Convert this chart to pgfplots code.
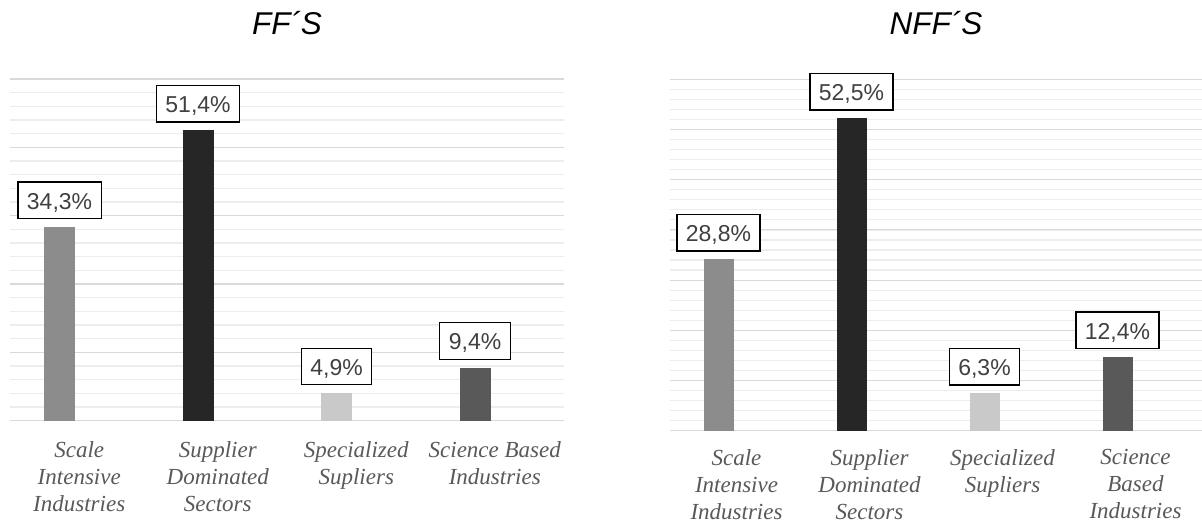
\documentclass[border=0pt]{standalone}
\usepackage{pgfplots}
\pgfplotsset{compat=1.18}
\usepackage{fontspec}
\setmainfont{Liberation Serif}
\newfontfamily\arial{Liberation Sans}
\definecolor{bA}{HTML}{8C8C8C}
\definecolor{bB}{HTML}{262626}
\definecolor{bC}{HTML}{C9C9C9}
\definecolor{bD}{HTML}{595959}
\definecolor{gMaj}{HTML}{D9D9D9}
\definecolor{gMin}{HTML}{EDEDED}
\definecolor{lab}{HTML}{404040}
\definecolor{cat}{HTML}{595959}
\pgfplotsset{
  mybar/.style={
    scale only axis, anchor=south west,
    xmin=-0.5, xmax=3.5, ymin=0,
    xtick={0,1,2,3},
    axis line style={draw=none},
    tick style={draw=none},
    yticklabels={},
    ymajorgrids, yminorgrids,
    major grid style={gMaj, line width=1.2pt},
    minor grid style={gMin, line width=1.2pt},
    xticklabel style={font=\fontsize{23}{26.7}\selectfont\itshape, text=cat, align=center, anchor=north, inner sep=0pt, yshift=-16.5pt},
    ybar,
    nodes near coords, point meta=explicit symbolic,
    every node near coord/.append style={font=\arial\fontsize{23}{27}\selectfont, text=lab, draw=black, line width=1.3pt, fill=white, inner xsep=9pt, inner ysep=9.5pt, text height=17.5pt, text depth=0pt, anchor=south, yshift=7.7pt},
    title style={font=\arial\itshape\fontsize{31.5}{36}\selectfont, anchor=base, at={(0.5,1)}, yshift=39pt},
  }
}
\begin{document}
\begin{tikzpicture}[x=1pt,y=1pt]
\path[use as bounding box] (0,0) rectangle (1202,520);
\begin{axis}[mybar, at={(10pt,99.3pt)}, width=554pt, height=341.7pt,
  ymax=60.5, ytick={0,12.1,24.2,36.3,48.4,60.5},
  minor ytick={0,2.42,...,60.5},
  title={FF´S}, bar width=31pt,
  xticklabels={{Scale\\Intensive\\Industries},{Supplier\\Dominated\\Sectors},{Specialized\\Supliers},{Science Based\\Industries}}]
\addplot[fill=bA, draw=none, bar shift=-19.7pt] coordinates {(0,34.3) [34,3\%]};
\addplot[fill=bB, draw=none, bar shift=-19.7pt] coordinates {(1,51.4) [51,4\%]};
\addplot[fill=bC, draw=none, bar shift=-19.7pt] coordinates {(2,4.9) [4,9\%]};
\addplot[fill=bD, draw=none, bar shift=-19.7pt] coordinates {(3,9.4) [9,4\%]};
\end{axis}
\begin{axis}[mybar, at={(670pt,89.3pt)}, width=532pt, height=351.4pt,
  ymax=59.06, ytick={0,8.437,16.874,25.311,33.749,42.186,50.623,59.06},
  minor ytick={0,1.6874,...,59.06},
  title={NFF´S}, bar width=30pt,
  xticklabel style={yshift=2pt},
  xticklabels={{Scale\\Intensive\\Industries},{Supplier\\Dominated\\Sectors},{Specialized\\Supliers},{Science\\Based\\Industries}}]
\addplot[fill=bA, draw=none, bar shift=-18pt] coordinates {(0,28.8) [28,8\%]};
\addplot[fill=bB, draw=none, bar shift=-18pt] coordinates {(1,52.5) [52,5\%]};
\addplot[fill=bC, draw=none, bar shift=-18pt] coordinates {(2,6.3) [6,3\%]};
\addplot[fill=bD, draw=none, bar shift=-18pt] coordinates {(3,12.4) [12,4\%]};
\end{axis}
\end{tikzpicture}
\end{document}
